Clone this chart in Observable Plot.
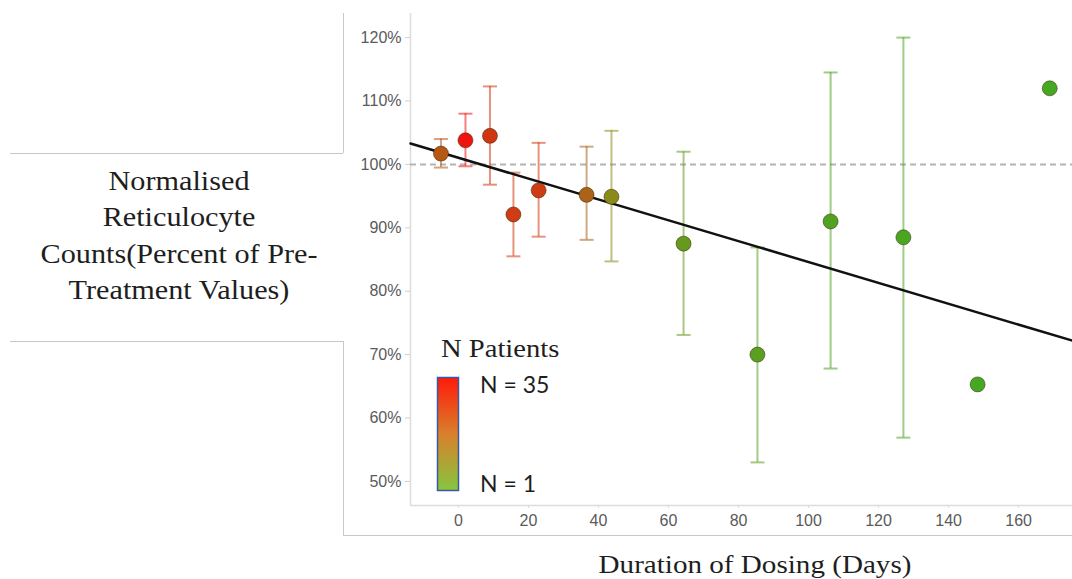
<!DOCTYPE html>
<html>
<head>
<meta charset="utf-8">
<script src="https://cdn.jsdelivr.net/npm/d3@7"></script>
<script src="https://cdn.jsdelivr.net/npm/@observablehq/plot@0.6"></script>
<style>
  html, body { margin: 0; padding: 0; background: #fff; }
  #wrap { position: relative; width: 1072px; height: 579px; overflow: hidden; }
</style>
</head>
<body>
<div id="wrap"></div>
<script>
// ---- data ----
const days      = [-5, 2, 9, 15.7, 22.9, 36.6, 43.7, 64.3, 85.4, 106.3, 127.1, 148.3, 168.9];
const values    = [101.7, 103.8, 104.5, 92.1, 95.9, 95.2, 94.9, 87.5, 70.0, 91.0, 88.5, 65.3, 112.0];
const errLow    = [99.5, 99.7, 96.8, 85.5, 88.6, 88.1, 84.7, 73.1, 53.0, 67.8, 56.9, null, null];
const errHigh   = [104.0, 108.0, 112.3, 98.7, 103.4, 102.8, 105.3, 102.0, 86.9, 114.5, 120.0, null, null];
const nPatients = [23, 35, 29, 28, 28, 21, 14, 7, 5, 3, 2, 1, 1];

const trendIntercept = 101.05;   // % at day 0
const trendSlope = -0.1645;      // % per day
const referenceLevel = 100;

const xTicks = [0, 20, 40, 60, 80, 100, 120, 140, 160];
const yTicks = [50, 60, 70, 80, 90, 100, 110, 120];
const xDomain = [-13.7, 175.4];
const yDomain = [46.2, 123.8];

const colorStops = [1, 14, 35];
const colorRange = ["#45a822", "#8a8a1a", "#ee1510"];
const legendGradient = ["#ff1a0a", "#d8802c", "#86c63e"];

const yTitleLines = ["Normalised", "Reticulocyte", "Counts(Percent of Pre-", "Treatment Values)"];
const xTitle = "Duration of Dosing (Days)";
const legendTitle = "N Patients";
const legendLabels = ["N = 35", "N = 1"];

// ---- build table ----
const rows = days.map((d, i) => ({day: d, value: values[i], lo: errLow[i], hi: errHigh[i], n: nPatients[i]}));
const withErr = rows.filter(d => d.lo != null && d.hi != null);
const trend = xDomain.map(x => ({day: x, value: trendIntercept + trendSlope * x}));

const capSymbol = { draw(ctx) { ctx.moveTo(-7, 0); ctx.lineTo(7, 0); } };

const W = 1072, H = 579;
const chart = Plot.plot({
  width: W,
  height: H,
  marginLeft: 410,
  marginRight: 0,
  marginTop: 13,
  marginBottom: 74,
  style: {fontFamily: "'Liberation Sans', Arial, sans-serif", background: "transparent", overflow: "visible"},
  x: {domain: xDomain},
  y: {domain: yDomain},
  color: {type: "linear", domain: colorStops, range: colorRange, interpolate: "rgb"},
  marks: [
    Plot.ruleX([xDomain[0]], {stroke: "#dcdcdc", strokeWidth: 1.5}),
    Plot.ruleY([yDomain[0]], {stroke: "#dcdcdc", strokeWidth: 1.5}),
    Plot.axisY(yTicks, {tickFormat: d => d + "%", tickSize: 5, tickPadding: 4, fontSize: 16, fill: "#5a5a5a", stroke: "#cfcfcf", label: null}),
    Plot.axisX(xTicks, {tickSize: 3, tickPadding: 6, fontSize: 16, fill: "#5a5a5a", stroke: "#dcdcdc", label: null}),
    Plot.ruleY([referenceLevel], {stroke: "#b4b4b4", strokeWidth: 2, strokeDasharray: "6,4"}),
    Plot.ruleX(withErr, {x: "day", y1: "lo", y2: "hi", stroke: "n", strokeOpacity: 0.55, strokeWidth: 2}),
    Plot.dot(withErr, {x: "day", y: "lo", symbol: capSymbol, r: 4, stroke: "n", strokeOpacity: 0.55, strokeWidth: 2, fill: "none"}),
    Plot.dot(withErr, {x: "day", y: "hi", symbol: capSymbol, r: 4, stroke: "n", strokeOpacity: 0.55, strokeWidth: 2, fill: "none"}),
    Plot.line(trend, {x: "day", y: "value", stroke: "#111", strokeWidth: 2.5}),
    Plot.dot(rows, {x: "day", y: "value", r: 7.5, fill: "n", stroke: "#3a2208", strokeOpacity: 0.5, strokeWidth: 1})
  ]
});

document.getElementById("wrap").appendChild(chart);

// ---- decorations: frame lines, titles, legend ----
const svg = d3.select(chart);
const deco = svg.append("g").attr("class", "decor");
const frameColor = "#c8c8c8";
const segs = [
  [343, 13, 343, 153], [10, 153, 343, 153],
  [10, 341, 343, 341], [343, 341, 343, 535], [343, 535, 1072, 535]
];
deco.selectAll("line.frame").data(segs).join("line")
  .attr("class", "frame")
  .attr("x1", d => d[0]).attr("y1", d => d[1]).attr("x2", d => d[2]).attr("y2", d => d[3])
  .attr("stroke", frameColor).attr("stroke-width", 1).attr("shape-rendering", "crispEdges");

const serif = "'Liberation Serif', 'Times New Roman', serif";
// y title
const yt = deco.append("g").attr("transform", "translate(179,0) scale(1.08,1)");
yt.selectAll("text").data(yTitleLines).join("text")
  .attr("x", 0).attr("y", (d, i) => 190 + i * 36.4)
  .attr("text-anchor", "middle").attr("font-family", serif).attr("font-size", 28)
  .attr("fill", "#1e1e1e").text(d => d);

// x title
deco.append("g").attr("transform", "translate(755,573) scale(1.12,1)")
  .append("text").attr("text-anchor", "middle").attr("font-family", serif)
  .attr("font-size", 26).attr("fill", "#1e1e1e").text(xTitle);

// legend
deco.append("g").attr("transform", "translate(441,357) scale(1.1,1)")
  .append("text").attr("text-anchor", "start").attr("font-family", serif)
  .attr("font-size", 26).attr("fill", "#1e1e1e").text(legendTitle);

const defs = svg.append("defs");
const grad = defs.append("linearGradient").attr("id", "npGrad").attr("x1", 0).attr("y1", 0).attr("x2", 0).attr("y2", 1);
grad.selectAll("stop").data(legendGradient).join("stop")
  .attr("offset", (d, i) => i / (legendGradient.length - 1)).attr("stop-color", d => d);
deco.append("rect").attr("x", 437.5).attr("y", 377.5).attr("width", 21).attr("height", 113)
  .attr("fill", "url(#npGrad)").attr("stroke", "#3a58a8").attr("stroke-width", 1.5);
deco.selectAll("text.nlab").data(legendLabels).join("text")
  .attr("class", "nlab")
  .attr("x", 480).attr("y", (d, i) => i === 0 ? 393 : 492)
  .attr("text-anchor", "start")
  .attr("font-family", "Lato, 'Open Sans', sans-serif").attr("font-size", 23)
  .attr("fill", "#1e1e1e").text(d => d);
</script>
</body>
</html>
